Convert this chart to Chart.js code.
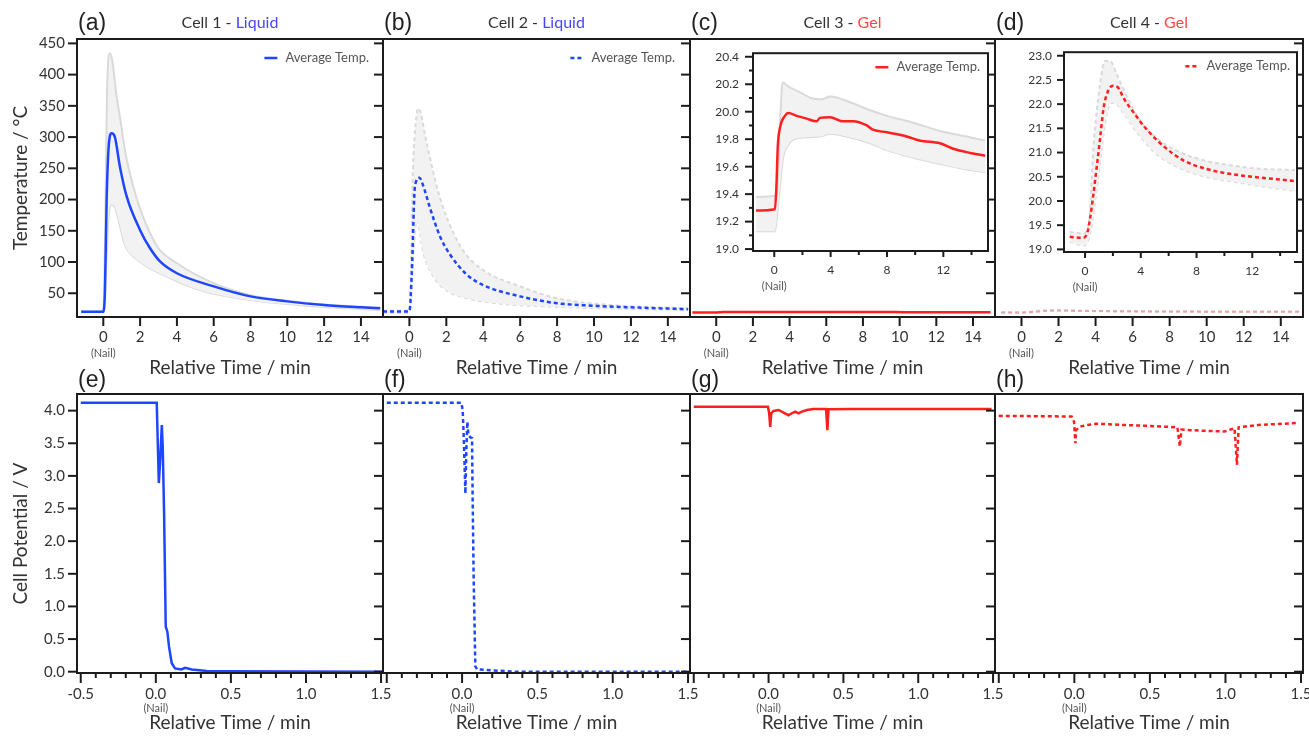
<!DOCTYPE html>
<html>
<head>
<meta charset="utf-8">
<script src="https://cdn.jsdelivr.net/npm/chart.js@4.4.1/dist/chart.umd.min.js"></script>
<style>
  body { margin: 0; background: #fff; width: 1309px; height: 736px; position: relative; overflow: hidden; }
  canvas { position: absolute; }
</style>
</head>
<body>
<script>
// ---- tick values ----
const tempTicks = [50, 100, 150, 200, 250, 300, 350, 400, 450];
const timeTicksTop = [0, 2, 4, 6, 8, 10, 12, 14];
const voltTicks = [0, 0.5, 1, 1.5, 2, 2.5, 3, 3.5, 4];
const timeTicksBottom = [-0.5, 0, 0.5, 1, 1.5];
const timeMinorBottom = [-0.4, -0.3, -0.2, -0.1, 0.1, 0.2, 0.3, 0.4, 0.6, 0.7, 0.8, 0.9, 1.1, 1.2, 1.3, 1.4];
const insetTimeTicks = [0, 4, 8, 12];
const insetTimeMinor = [2, 6, 10, 14];
const cell3TempTicks = [19.0, 19.2, 19.4, 19.6, 19.8, 20.0, 20.2, 20.4];
const cell3TempMinor = [19.1, 19.3, 19.5, 19.7, 19.9, 20.1, 20.3];
const cell4TempTicks = [19.0, 19.5, 20.0, 20.5, 21.0, 21.5, 22.0, 22.5, 23.0];

// ---- cell 1 (liquid) temperature ----
const cell1Time = [-1.2, 0, 0.09, 0.18, 0.3, 0.45, 0.63, 0.9, 1.27, 2.0, 2.54, 3.08, 4.0, 6.0, 8.0, 10.0, 12.0, 14.0, 15.05];
const cell1Avg  = [20.5, 20.5, 55, 199, 288, 306, 300, 253, 205, 151, 122, 101, 82, 61, 45, 37, 31.3, 27.6, 26];
const cell1UpTime = [-1.2, 0, 0.1, 0.2, 0.36, 0.5, 0.7, 0.9, 1.2, 1.63, 2.0, 2.54, 3.0, 4.0, 6.0, 8.0, 10.0, 12.0, 15.05];
const cell1Up     = [21, 21, 150, 370, 434, 420, 370, 333, 275, 221, 185, 146, 122, 98, 66, 47, 38, 32, 27];
const cell1LoTime = [-1.2, 0, 0.15, 0.3, 0.45, 0.6, 0.75, 1.18, 1.63, 2.36, 3.44, 5.25, 7.97, 10.7, 15.05];
const cell1Lo     = [19.5, 19.5, 90, 175, 192, 190, 176, 127, 109, 93, 77, 55, 39, 31, 23];

// ---- cell 2 (liquid) temperature ----
const cell2Time = [-1.43, 0, 0.13, 0.3, 0.54, 0.76, 1.12, 1.66, 2.2, 3.1, 4.0, 6.0, 8.0, 9.93, 11.9, 15.1];
const cell2Avg  = [21, 21, 82, 221, 235, 221, 186, 141, 112, 80, 63, 45, 34, 30, 27.6, 24.5];
const cell2UpTime = [-1.43, 0, 0.2, 0.4, 0.49, 0.94, 1.48, 2.0, 2.9, 4.0, 6.0, 8.0, 11.0, 15.1];
const cell2Up     = [22, 22, 253, 338, 346, 290, 221, 173, 119, 87, 61, 42, 31, 26];
const cell2LoTime = [-1.43, 0, 0.2, 0.4, 0.76, 1.3, 2.0, 3.1, 4.7, 7.4, 15.1];
const cell2Lo     = [19, 19, 110, 167, 114, 77, 55, 42, 34, 29, 23];

// ---- cell 3 (gel) temperature ----
const cell3Time = [-1.3, 0.05, 0.15, 0.25, 0.4, 0.76, 1.0, 1.59, 2.3, 3.0, 3.24, 3.95, 4.9, 5.6, 6.56, 7.0, 7.98, 9.4, 10.3, 11.76, 12.7, 13.9, 14.96];
const cell3Avg  = [19.28, 19.29, 19.45, 19.75, 19.88, 19.97, 19.99, 19.97, 19.95, 19.93, 19.955, 19.96, 19.93, 19.93, 19.90, 19.87, 19.85, 19.82, 19.79, 19.77, 19.73, 19.70, 19.68];
const cell3UpTime = [-1.3, 0.2, 0.4, 0.6, 0.9, 1.85, 2.6, 3.3, 4.0, 5.1, 6.56, 8.0, 9.87, 11.76, 13.65, 14.96];
const cell3Up     = [19.38, 19.39, 19.9, 20.215, 20.19, 20.14, 20.1, 20.09, 20.11, 20.08, 20.02, 19.97, 19.92, 19.86, 19.82, 19.79];
const cell3LoTime = [-1.3, 0.05, 0.3, 0.6, 1.0, 1.85, 3.3, 3.95, 5.1, 6.56, 8.0, 9.87, 11.76, 13.65, 14.96];
const cell3Lo     = [19.13, 19.13, 19.35, 19.65, 19.76, 19.81, 19.82, 19.84, 19.82, 19.78, 19.72, 19.665, 19.62, 19.58, 19.56];

// ---- cell 4 (gel) temperature ----
const cell4Time = [-1.1, -0.12, 0.17, 0.36, 0.6, 0.85, 1.09, 1.33, 1.62, 2.0, 2.35, 2.8, 3.5, 4.42, 5.6, 7.05, 8.73, 10.4, 12.3, 13.75, 15.06];
const cell4Avg  = [19.26, 19.24, 19.35, 19.64, 20.14, 20.73, 21.32, 21.92, 22.25, 22.38, 22.35, 22.11, 21.82, 21.48, 21.14, 20.84, 20.66, 20.56, 20.49, 20.45, 20.41];
const cell4UpTime = [-1.1, -0.1, 0.3, 0.6, 1.08, 1.43, 1.8, 2.27, 3.0, 3.95, 5.14, 6.57, 8.5, 10.4, 12.3, 15.06];
const cell4Up     = [19.36, 19.33, 19.6, 21.1, 22.42, 22.89, 22.89, 22.62, 22.16, 21.66, 21.30, 21.04, 20.84, 20.74, 20.67, 20.64];
const cell4LoTime = [-1.1, -0.05, 0.36, 0.84, 1.2, 1.55, 1.91, 2.27, 2.75, 3.7, 5.14, 6.57, 8.5, 10.4, 12.3, 15.06];
const cell4Lo     = [19.16, 19.08, 19.32, 20.24, 21.1, 21.8, 22.03, 22.0, 21.83, 21.43, 20.97, 20.71, 20.51, 20.41, 20.32, 20.21];

// ---- cell potentials ----
const cell1VTime = [-0.5, 0.006, 0.02, 0.028, 0.04, 0.046, 0.055, 0.066, 0.072, 0.077, 0.088, 0.106, 0.128, 0.17, 0.195, 0.24, 0.34, 0.47, 1.513];
const cell1V     = [4.12, 4.12, 2.89, 3.2, 3.78, 3.45, 2.43, 0.69, 0.65, 0.61, 0.38, 0.13, 0.05, 0.035, 0.06, 0.035, 0.01, 0.005, 0.0];
const cell2VTime = [-0.5, -0.004, 0.004, 0.011, 0.022, 0.029, 0.035, 0.042, 0.055, 0.066, 0.07, 0.077, 0.088, 0.1, 0.35, 1.513];
const cell2V     = [4.12, 4.12, 4.0, 3.6, 2.73, 3.45, 3.83, 3.63, 3.59, 3.58, 2.68, 1.4, 0.08, 0.035, 0.0, 0.0];
const cell3VTime = [-0.5, -0.004, 0.004, 0.011, 0.018, 0.033, 0.067, 0.1, 0.133, 0.156, 0.178, 0.2, 0.222, 0.256, 0.3, 0.384, 0.393, 0.4, 0.556, 1.49];
const cell3V     = [4.06, 4.06, 3.96, 3.75, 3.96, 3.995, 4.01, 3.97, 3.93, 3.96, 3.985, 3.96, 3.985, 4.01, 4.025, 4.025, 3.70, 4.02, 4.025, 4.025];
const cell4VTime = [-0.5, -0.018, -0.002, 0.007, 0.011, 0.038, 0.082, 0.149, 0.327, 0.504, 0.682, 0.698, 0.709, 0.771, 0.882, 0.993, 1.06, 1.076, 1.087, 1.216, 1.47];
const cell4V     = [3.92, 3.91, 3.83, 3.5, 3.70, 3.755, 3.78, 3.80, 3.78, 3.765, 3.745, 3.45, 3.71, 3.70, 3.69, 3.68, 3.73, 3.17, 3.745, 3.78, 3.81];

const BLUE = '#1e46ff', RED = '#ff1f1f', BAND = '#f2f2f2', BAND_EDGE = '#dadada';
const INK = '#1c1c1c', TXT = '#333333', FONT = 'Lato';
const cols = [77, 383, 690, 995, 1303];

function pts(xs, ys) { return xs.map((x, i) => ({ x: x, y: ys[i] })); }

function line(xs, ys, color, width, dash, smooth) {
  return {
    data: pts(xs, ys), borderColor: color, borderWidth: width, borderDash: dash || [],
    pointRadius: 0, fill: false, cubicInterpolationMode: smooth ? 'monotone' : 'default', tension: 0
  };
}

function band(upT, up, loT, lo, dash) {
  const u = line(upT, up, BAND_EDGE, 2, dash, true);
  u.fill = '+1';
  u.backgroundColor = BAND;
  const l = line(loT, lo, BAND_EDGE, 2, dash, true);
  return [u, l];
}

// frame, ticks, legend, titles
function decor(o) {
  return {
    id: 'decor',
    beforeDatasetsDraw(chart) {
      if (!o.white) return;
      const a = chart.chartArea, ctx = chart.ctx;
      ctx.save(); ctx.fillStyle = '#fff'; ctx.fillRect(a.left, a.top, a.width, a.height); ctx.restore();
    },
    afterDraw(chart) {
      const { ctx, chartArea: a, scales } = chart;
      const sx = scales.x, sy = scales.y;
      ctx.save();
      ctx.strokeStyle = INK;
      ctx.lineWidth = 2;
      ctx.strokeRect(a.left, a.top, a.width, a.height);
      const seg = (x1, y1, x2, y2) => { ctx.beginPath(); ctx.moveTo(x1, y1); ctx.lineTo(x2, y2); ctx.stroke(); };
      o.xMajor.forEach(v => { const p = sx.getPixelForValue(v); seg(p, a.bottom, p, a.bottom + o.xMaj); });
      (o.xMinor || []).forEach(v => { const p = sx.getPixelForValue(v); seg(p, a.bottom, p, a.bottom + o.xMin); });
      if (o.yLeft) {
        o.yMajor.forEach(v => { const p = sy.getPixelForValue(v); seg(a.left - o.yMaj, p, a.left, p); });
        (o.yMinor || []).forEach(v => { const p = sy.getPixelForValue(v); seg(a.left - o.yMin, p, a.left, p); });
      }
      if (o.yRight) {
        o.yMajor.forEach(v => { const p = sy.getPixelForValue(v); seg(a.right - o.yRight, p, a.right, p); });
      }
      ctx.fillStyle = '#555';
      ctx.textAlign = 'center';
      ctx.textBaseline = 'middle';
      ctx.font = '11px ' + FONT;
      ctx.fillText('(Nail)', sx.getPixelForValue(0), a.bottom + o.nailDy);
      if (o.legend) {
        const g = o.legend;
        ctx.font = '13px ' + FONT;
        const w = ctx.measureText('Average Temp.').width;
        const tx = a.right - g.right - w, ly = a.top + g.dy;
        ctx.textAlign = 'left';
        ctx.fillText('Average Temp.', tx, ly);
        ctx.strokeStyle = g.color; ctx.lineWidth = 2.5; ctx.setLineDash(g.dash || []);
        seg(tx - 21, ly, tx - 8, ly);
        ctx.setLineDash([]);
      }
      if (o.letter) {
        ctx.fillStyle = '#222'; ctx.textAlign = 'left'; ctx.font = '23px "Liberation Sans"';
        ctx.fillText(o.letter, a.left + 1, a.top - o.letterDy);
      }
      if (o.title) {
        ctx.font = '16px ' + FONT; ctx.textAlign = 'left';
        const total = o.title.reduce((s, p) => s + ctx.measureText(p[0]).width, 0);
        let xx = (a.left + a.right) / 2 - total / 2;
        o.title.forEach(p => { ctx.fillStyle = p[1]; ctx.fillText(p[0], xx, a.top - 16); xx += ctx.measureText(p[0]).width; });
      }
      ctx.restore();
    }
  };
}

function makeChart(box, c) {
  const w = c.padL + box.R - box.L + c.padR, h = c.padT + box.B - box.T + c.padB;
  const cv = document.createElement('canvas');
  cv.width = w; cv.height = h;
  cv.style.left = (box.L - c.padL) + 'px';
  cv.style.top = (box.T - c.padT) + 'px';
  document.body.appendChild(cv);
  return new Chart(cv.getContext('2d'), {
    type: 'line',
    data: { datasets: c.datasets },
    options: {
      responsive: false, animation: false, devicePixelRatio: 1, events: [],
      layout: { padding: { left: 0, top: c.padT, right: c.padR, bottom: 0 } },
      plugins: { legend: { display: false }, tooltip: { enabled: false } },
      scales: {
        x: {
          type: 'linear', min: c.x.min, max: c.x.max,
          afterFit: s => { s.height = c.padB; },
          afterBuildTicks: s => { s.ticks = c.x.ticks.map(v => ({ value: v })); },
          grid: { color: 'rgba(0,0,0,0)', drawOnChartArea: false, drawTicks: true, tickLength: c.x.tl },
          border: { display: false },
          ticks: { autoSkip: false, maxRotation: 0, padding: c.x.pad, color: TXT, font: { family: FONT, size: c.x.size }, callback: c.x.fmt },
          title: c.x.title ? { display: true, text: c.x.title, color: TXT, padding: 0, font: { family: FONT, size: 19 } } : { display: false }
        },
        y: {
          type: 'linear', min: c.y.min, max: c.y.max,
          afterFit: s => { s.width = c.padL; },
          afterBuildTicks: s => { s.ticks = c.y.ticks.map(v => ({ value: v })); },
          grid: { color: 'rgba(0,0,0,0)', drawOnChartArea: false, drawTicks: true, tickLength: c.y.tl },
          border: { display: false },
          ticks: { display: c.y.show, autoSkip: false, padding: c.y.pad, color: TXT, font: { family: FONT, size: c.y.size }, callback: c.y.fmt },
          title: c.y.title ? { display: true, text: c.y.title, color: TXT, padding: { top: 9, bottom: 0 }, font: { family: FONT, size: 19 } } : { display: false }
        }
      }
    },
    plugins: [decor(c.decor)]
  });
}

const titles = [
  [['Cell 1 - ', '#333'], ['Liquid', '#4646ff']],
  [['Cell 2 - ', '#333'], ['Liquid', '#4646ff']],
  [['Cell 3 - ', '#333'], ['Gel', '#ff4646']],
  [['Cell 4 - ', '#333'], ['Gel', '#ff4646']]
];

function tempPanel(i, datasets, legend) {
  return makeChart({ L: cols[i], R: cols[i + 1], T: 39, B: 317 }, {
    padL: 77, padR: 14, padT: 39, padB: 62, datasets: datasets,
    x: { min: -1.43, max: 15.2, ticks: timeTicksTop, tl: 9, pad: 2, size: 15, fmt: v => String(v), title: 'Relative Time / min' },
    y: { min: 12, max: 457, ticks: tempTicks, tl: 9, pad: 3, size: 15, show: i === 0, fmt: v => String(v), title: i === 0 ? 'Temperature / °C' : null },
    decor: { xMajor: timeTicksTop, xMaj: 9, yLeft: i === 0, yMajor: tempTicks, yMaj: 9, yRight: 9, nailDy: 36,
      legend: legend, letter: '(' + 'abcd'[i] + ')', letterDy: 15, title: titles[i] }
  });
}

function voltPanel(i, datasets) {
  return makeChart({ L: cols[i], R: cols[i + 1], T: 394, B: 673 }, {
    padL: 77, padR: 14, padT: 36, padB: 61, datasets: datasets,
    x: { min: -0.525, max: 1.513, ticks: timeTicksBottom, tl: 10, pad: 2, size: 15,
      fmt: v => (i > 0 && v === -0.5) ? '' : v.toFixed(1), title: 'Relative Time / min' },
    y: { min: -0.02, max: 4.255, ticks: voltTicks, tl: 9, pad: 3, size: 15, show: i === 0, fmt: v => v.toFixed(1), title: i === 0 ? 'Cell Potential / V' : null },
    decor: { xMajor: timeTicksBottom, xMinor: timeMinorBottom, xMaj: 10, xMin: 5, yLeft: i === 0, yMajor: voltTicks, yMaj: 9, yRight: 9, nailDy: 35,
      letter: '(' + 'efgh'[i] + ')', letterDy: 13 }
  });
}

function insetPanel(box, yr, yTicks, yMinor, datasets, legend, tl, pad) {
  return makeChart(box, {
    padL: 42, padR: 4, padT: 4, padB: 45, datasets: datasets,
    x: { min: yr.xmin, max: yr.xmax, ticks: insetTimeTicks, tl: 6, pad: 6, size: 12, fmt: v => String(v) },
    y: { min: yr.min, max: yr.max, ticks: yTicks, tl: tl, pad: pad, size: 12, show: true, fmt: v => v.toFixed(1) },
    decor: { white: true, xMajor: insetTimeTicks, xMinor: insetTimeMinor, xMaj: 6, xMin: 4, yLeft: true, yMajor: yTicks, yMinor: yMinor,
      yMaj: tl, yMin: 4, nailDy: 35, legend: legend }
  });
}

// top row
tempPanel(0, [line(cell1Time, cell1Avg, BLUE, 2.5, [], true)].concat(band(cell1UpTime, cell1Up, cell1LoTime, cell1Lo, [])),
  { color: BLUE, dash: [], dy: 19, right: 14 });
tempPanel(1, [line(cell2Time, cell2Avg, BLUE, 2.5, [4, 3], true)].concat(band(cell2UpTime, cell2Up, cell2LoTime, cell2Lo, [4, 3])),
  { color: BLUE, dash: [4, 3], dy: 19, right: 15 });
tempPanel(2, [line(cell3Time, cell3Avg, RED, 2.5, [], true)], null);
tempPanel(3, [line(cell4Time, cell4Avg, 'rgba(255,70,70,0.35)', 2, [4, 3], true)].concat(band(cell4UpTime, cell4Up, cell4LoTime, cell4Lo, [4, 3])), null);

// bottom row
voltPanel(0, [line(cell1VTime, cell1V, BLUE, 2.5, [], false)]);
voltPanel(1, [line(cell2VTime, cell2V, BLUE, 2.5, [4, 3], false)]);
voltPanel(2, [line(cell3VTime, cell3V, RED, 2.5, [], false)]);
voltPanel(3, [line(cell4VTime, cell4V, RED, 2.5, [4, 3], false)]);

// insets
insetPanel({ L: 753, T: 44, R: 988, B: 251 }, { xmin: -1.51, xmax: 15.17, min: 18.986, max: 20.426 },
  cell3TempTicks, cell3TempMinor,
  [line(cell3Time, cell3Avg, RED, 2.5, [], true)].concat(band(cell3UpTime, cell3Up, cell3LoTime, cell3Lo, [])),
  { color: RED, dash: [], dy: 14, right: 8 }, 8, 6);
insetPanel({ L: 1064, T: 44, R: 1297, B: 252 }, { xmin: -1.51, xmax: 15.21, min: 18.946, max: 23.073 },
  cell4TempTicks, null,
  [line(cell4Time, cell4Avg, RED, 2.5, [4, 3], true)].concat(band(cell4UpTime, cell4Up, cell4LoTime, cell4Lo, [4, 3])),
  { color: RED, dash: [4, 3], dy: 14, right: 7 }, 7, 5);
</script>
</body>
</html>
